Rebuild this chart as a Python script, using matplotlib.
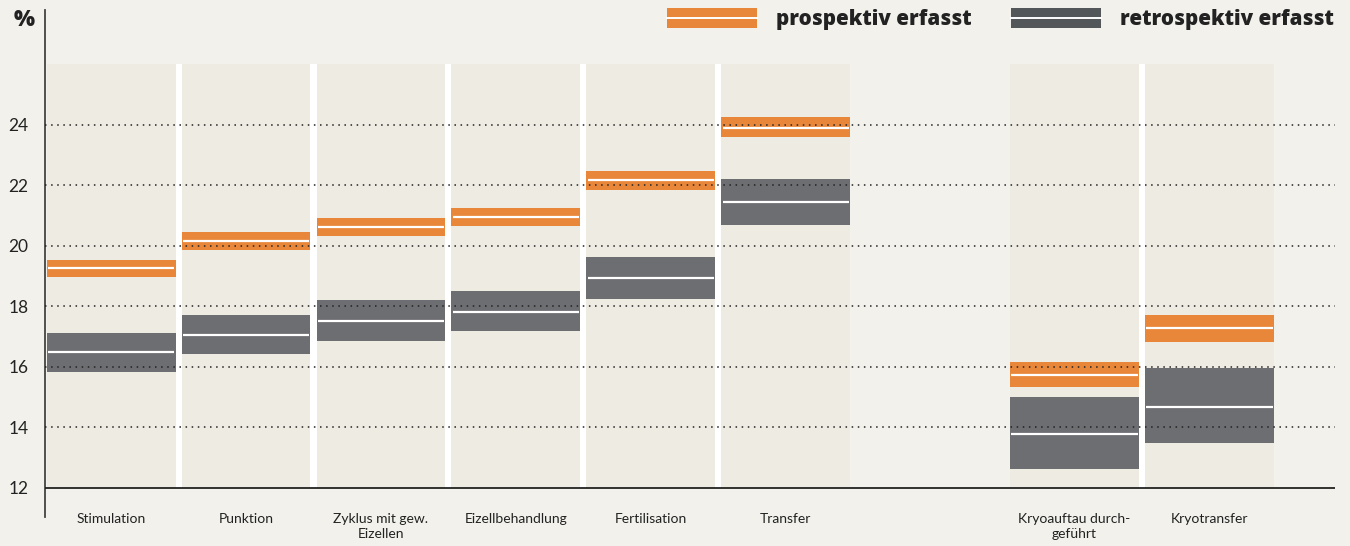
import numpy as np
import matplotlib
matplotlib.use("Agg")
import matplotlib.pyplot as plt
from matplotlib.patches import Rectangle

plt.rcParams['font.family'] = ['Lato', 'DejaVu Sans']

categories = ["Stimulation", "Punktion", "Zyklus mit gew.\nEizellen", "Eizellbehandlung",
              "Fertilisation", "Transfer", "Kryoauftau durch-\ngeführt", "Kryotransfer"]
positions = [0, 1, 2, 3, 4, 5, 7.14, 8.14]

prosp_lo = [18.98, 19.87, 20.33, 20.66, 21.85, 23.60, 15.34, 16.83]
prosp_hi = [19.54, 20.46, 20.93, 21.26, 22.48, 24.26, 16.17, 17.72]
prosp_mid = [19.27, 20.17, 20.63, 20.96, 22.17, 23.91, 15.75, 17.29]

retro_lo = [15.84, 16.44, 16.86, 17.19, 18.25, 20.69, 12.63, 13.49]
retro_hi = [17.12, 17.72, 18.21, 18.51, 19.64, 22.21, 15.01, 15.98]
retro_mid = [16.49, 17.07, 17.52, 17.82, 18.95, 21.44, 13.79, 14.68]

yticks = [12, 14, 16, 18, 20, 22, 24]

BG = "#F2F1EC"
PANEL = "#EEEBE3"
ORANGE = "#E8873A"
DARK = "#6D6E72"
LEG_DARK = "#54575A"
w = 0.955

fig = plt.figure(figsize=(13.5, 5.46), dpi=100, facecolor=BG)
ax = fig.add_axes([0.0333, 0.0531, 0.9556, 0.9286])
ax.set_facecolor(BG)
ax.set_xlim(-0.49, 9.07)
ax.set_ylim(11.04, 27.8)

# panels
ax.bar(positions, [14] * len(positions), bottom=12, width=w, color=PANEL, zorder=1)
# white separators between adjacent panels
for a, b in zip(positions[:-1], positions[1:]):
    if b - a < 1.05:
        ax.bar((a + b) / 2, 14, bottom=12, width=1 - w, color="white", zorder=1.5)

ax.bar(positions, np.subtract(prosp_hi, prosp_lo), bottom=prosp_lo, width=w,
       color=ORANGE, zorder=2)
ax.bar(positions, np.subtract(retro_hi, retro_lo), bottom=retro_lo, width=w,
       color=DARK, zorder=2)
for p, m1, m2 in zip(positions, prosp_mid, retro_mid):
    ax.hlines([m1, m2], p - w / 2 + 0.01, p + w / 2 - 0.01, color="white", lw=1.6, zorder=3)

for y in yticks[1:]:
    ax.axhline(y, color="#222222", lw=1.1, ls=(0, (1, 3)), zorder=4)
ax.axhline(12, color="#222222", lw=1.3, zorder=4)

for s in ["top", "right", "bottom"]:
    ax.spines[s].set_visible(False)
ax.spines["left"].set_color("#444444")
ax.spines["left"].set_linewidth(1.3)

ax.set_yticks(yticks)
ax.set_yticklabels([str(t) for t in yticks], fontsize=12.5, color="#222222")
ax.tick_params(axis="y", length=0, pad=12)
ax.set_xticks([])

for p, c in zip(positions, categories):
    ax.text(p, 11.16, c, ha="center", va="top", fontsize=10, color="#222222",
            linespacing=1.3, clip_on=False)

fig.text(0.010, 0.963, "%", fontsize=16, fontweight="heavy", color="#222222",
         ha="left", va="center", family=["Open Sans", "DejaVu Sans"])

# legend
for x0, x1, col, label, tx in [(667, 757, ORANGE, "prospektiv erfasst", 776),
                               (1011, 1101, LEG_DARK, "retrospektiv erfasst", 1120)]:
    fig.add_artist(Rectangle((x0 / 1350, 1 - 28 / 546), (x1 - x0) / 1350, 20 / 546,
                             transform=fig.transFigure, color=col, lw=0))
    fig.add_artist(plt.Line2D([x0 / 1350, x1 / 1350], [1 - 18 / 546] * 2,
                              transform=fig.transFigure, color="white", lw=1.4))
    fig.text(tx / 1350, 1 - 19 / 546, label, fontsize=14.8, fontweight="heavy",
             color="#222222", ha="left", va="center", family=["Open Sans", "DejaVu Sans"])

fig.savefig("out.png", dpi=100, facecolor=BG)
